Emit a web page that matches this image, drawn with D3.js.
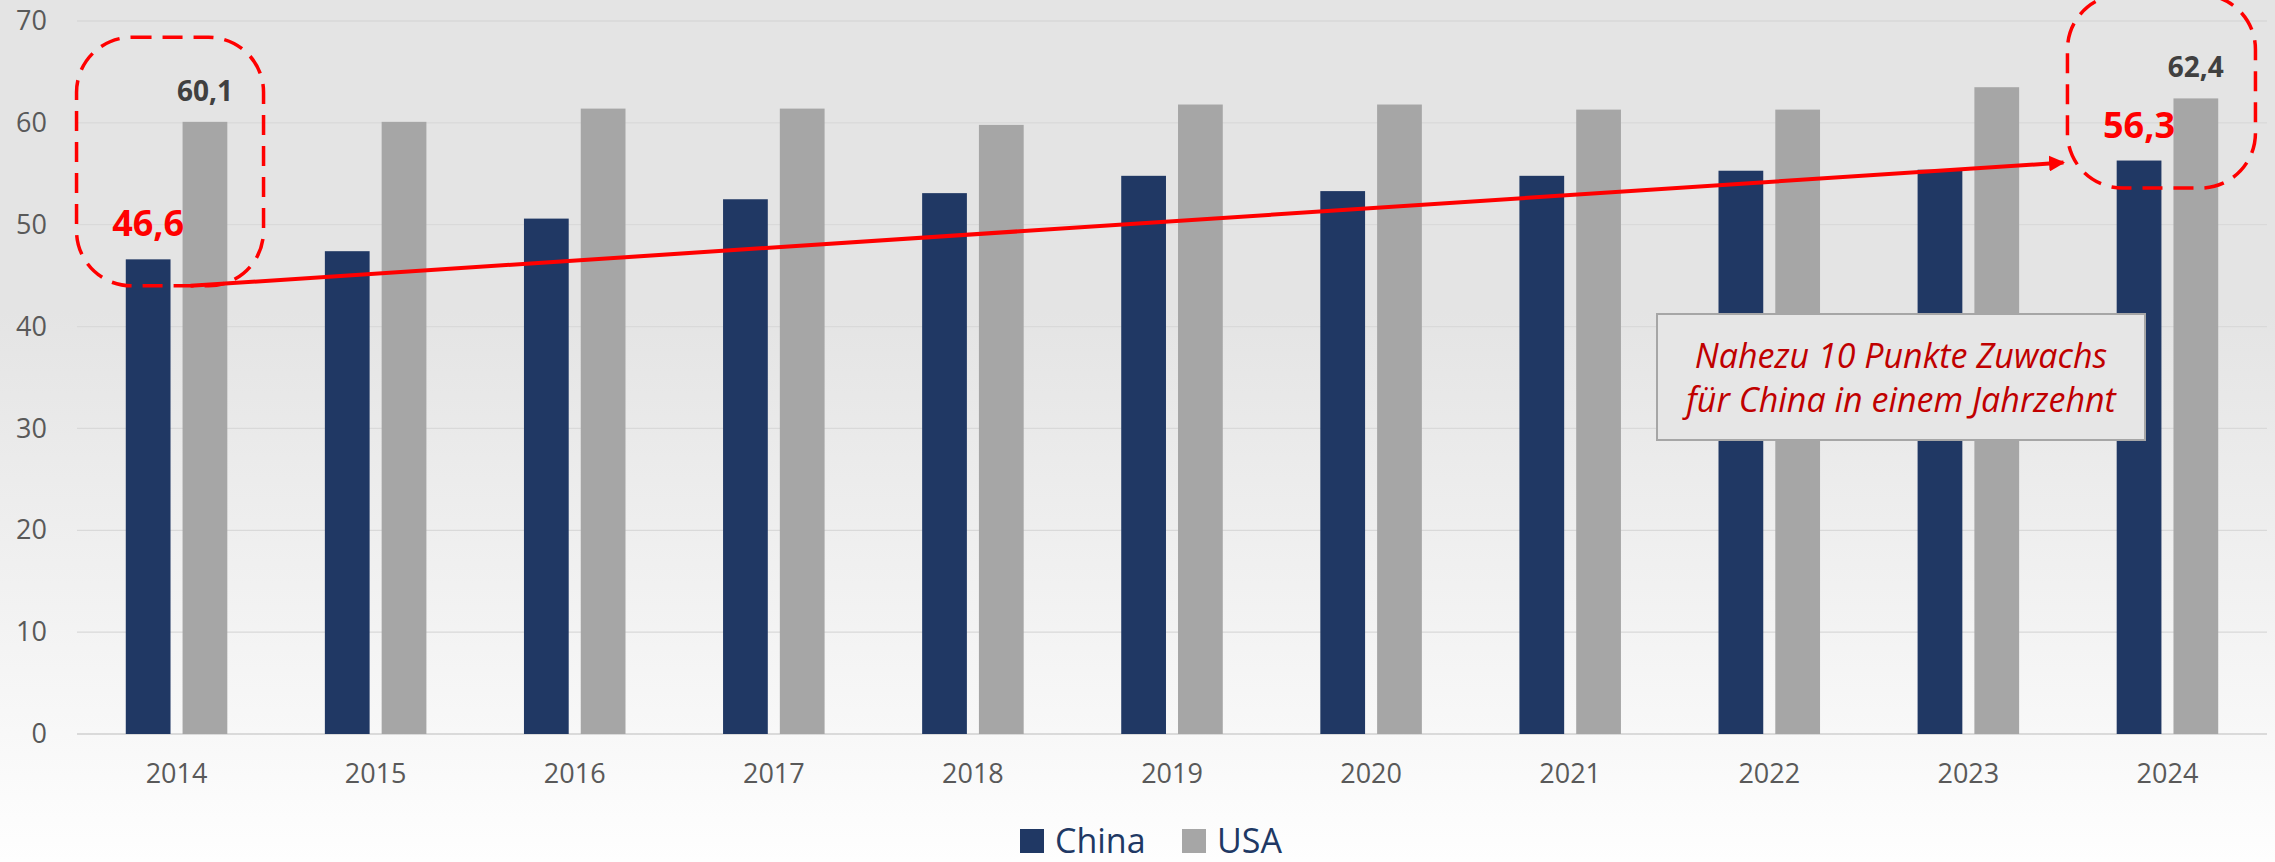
<!DOCTYPE html>
<html>
<head>
<meta charset="utf-8">
<script src="https://cdn.jsdelivr.net/npm/d3@7"></script>
<style>
  body { margin: 0; background: #fff; }
  text { font-family: "Open Sans", sans-serif; }
</style>
</head>
<body>
<svg id="chart"></svg>
<script>
const years = ["2014", "2015", "2016", "2017", "2018", "2019", "2020", "2021", "2022", "2023", "2024"];
const series = ["China", "USA"];
const china = [46.6, 47.4, 50.6, 52.5, 53.1, 54.8, 53.3, 54.8, 55.3, 55.4, 56.3];
const usa = [60.1, 60.1, 61.4, 61.4, 59.8, 61.8, 61.8, 61.3, 61.3, 63.5, 62.4];
const yTicks = [0, 10, 20, 30, 40, 50, 60, 70];
const noteLines = ["Nahezu 10 Punkte Zuwachs", "für China in einem Jahrzehnt"];
const trendFrom = 44.0, trendTo = 56.1;

const width = 2275, height = 862;
const marginLeft = 77, marginRight = 8, marginTop = 21, marginBottom = 128;

const colors = { China: "#203864", USA: "#a6a6a6" };

const rows = years.map((y, i) => ({ year: y, China: china[i], USA: usa[i] }));

const svg = d3.select("#chart")
  .attr("width", width)
  .attr("height", height);

// background gradient
const grad = svg.append("defs").append("linearGradient")
  .attr("id", "bg")
  .attr("x1", 0).attr("y1", 0).attr("x2", 0).attr("y2", 1);
grad.append("stop").attr("offset", "0").attr("stop-color", "#e4e4e4");
grad.append("stop").attr("offset", "0.36").attr("stop-color", "#e4e4e4");
grad.append("stop").attr("offset", "0.85").attr("stop-color", "#f8f8f8");
grad.append("stop").attr("offset", "1").attr("stop-color", "#fefefe");
svg.append("rect")
  .attr("width", width).attr("height", height)
  .attr("fill", "url(#bg)");

// scales
const x0 = d3.scaleBand()
  .domain(years)
  .range([marginLeft, width - marginRight])
  .paddingInner(0.49)
  .paddingOuter(0.245);
const x1 = d3.scaleBand()
  .domain(series)
  .range([0, x0.bandwidth()])
  .paddingInner(0.212);
const y = d3.scaleLinear()
  .domain([0, 70])
  .range([height - marginBottom, marginTop]);

// grid lines
svg.append("g")
  .selectAll("line")
  .data(yTicks)
  .join("line")
  .attr("x1", marginLeft)
  .attr("x2", width - marginRight)
  .attr("y1", d => y(d))
  .attr("y2", d => y(d))
  .attr("stroke", d => d === 0 ? "#d0d0d0" : "#d9d9d9")
  .attr("stroke-width", d => d === 0 ? 1.5 : 1.3);

// y axis labels
const yAxis = d3.axisLeft(y).tickValues(yTicks).tickSize(0).tickPadding(30);
svg.append("g")
  .attr("transform", `translate(${marginLeft},0)`)
  .call(yAxis)
  .call(g => g.select(".domain").remove())
  .call(g => g.selectAll("text")
    .attr("fill", "#595959")
    .style("font-size", "27px")
    .style("font-family", "'Open Sans', sans-serif"));

// x axis labels
const xAxis = d3.axisBottom(x0).tickSize(0).tickPadding(30);
svg.append("g")
  .attr("transform", `translate(0,${y(0)})`)
  .call(xAxis)
  .call(g => g.select(".domain").remove())
  .call(g => g.selectAll("text")
    .attr("fill", "#595959")
    .style("font-size", "27px")
    .style("font-family", "'Open Sans', sans-serif"));

// bars
const groups = svg.append("g")
  .selectAll("g")
  .data(rows)
  .join("g")
  .attr("transform", d => `translate(${x0(d.year)},0)`);
groups.selectAll("rect")
  .data(d => series.map(k => ({ key: k, value: d[k] })))
  .join("rect")
  .attr("x", d => x1(d.key))
  .attr("y", d => y(d.value))
  .attr("width", x1.bandwidth())
  .attr("height", d => y(0) - y(d.value))
  .attr("fill", d => colors[d.key]);

// value labels for first and last year
const first = rows[0], last = rows[rows.length - 1];
[first, last].forEach(r => {
  svg.append("text")
    .attr("x", x0(r.year) + x1("USA") + x1.bandwidth() / 2)
    .attr("y", y(r.USA) - 21)
    .attr("text-anchor", "middle")
    .attr("fill", "#404040")
    .style("font-size", "28px")
    .style("font-weight", "bold")
    .text(d3.format(".1f")(r.USA).replace(".", ","));
  svg.append("text")
    .attr("x", x0(r.year) + x1("China") + x1.bandwidth() / 2)
    .attr("y", y(r.China) - 23)
    .attr("text-anchor", "middle")
    .attr("fill", "#ff0000")
    .style("font-size", "36px")
    .style("font-weight", "bold")
    .text(d3.format(".1f")(r.China).replace(".", ","));
});

// dashed rounded boxes
const cx = yr => x0(yr) + x0.bandwidth() / 2;
svg.append("rect")
  .attr("x", cx("2014") - 100)
  .attr("y", y(68.4))
  .attr("width", 187)
  .attr("height", y(trendFrom) - y(68.4))
  .attr("rx", 55)
  .attr("fill", "none")
  .attr("stroke", "#ff0000")
  .attr("stroke-width", 3.5)
  .attr("stroke-dasharray", "20,11");
svg.append("rect")
  .attr("x", cx("2024") - 100)
  .attr("y", y(72.6))
  .attr("width", 188)
  .attr("height", y(53.6) - y(72.6))
  .attr("rx", 55)
  .attr("fill", "none")
  .attr("stroke", "#ff0000")
  .attr("stroke-width", 3.5)
  .attr("stroke-dasharray", "20,11");

// trend arrow
svg.select("defs").append("marker")
  .attr("id", "arrow")
  .attr("viewBox", "0 0 10 10")
  .attr("refX", 9).attr("refY", 5)
  .attr("markerWidth", 4).attr("markerHeight", 4)
  .attr("markerUnits", "strokeWidth")
  .attr("orient", "auto")
  .append("path")
  .attr("d", "M0,0 L10,5 L0,10 z")
  .attr("fill", "#ff0000");
svg.append("line")
  .attr("x1", cx("2014") + 14)
  .attr("y1", y(trendFrom))
  .attr("x2", cx("2024") - 104)
  .attr("y2", y(trendTo))
  .attr("stroke", "#ff0000")
  .attr("stroke-width", 4)
  .attr("marker-end", "url(#arrow)");

// note box
const note = svg.append("g");
note.append("rect")
  .attr("x", 1657)
  .attr("y", 314)
  .attr("width", 488)
  .attr("height", 126)
  .attr("fill", "#e6e6e6")
  .attr("stroke", "#a6a6a6")
  .attr("stroke-width", 2);
note.selectAll("text")
  .data(noteLines)
  .join("text")
  .attr("x", 1901)
  .attr("y", (d, i) => 368 + i * 44)
  .attr("text-anchor", "middle")
  .attr("fill", "#c00000")
  .style("font-size", "34px")
  .style("font-style", "italic")
  .text(d => d);

// legend
const legend = svg.append("g")
  .attr("transform", "translate(1020,829)");
const items = legend.selectAll("g")
  .data(series)
  .join("g")
  .attr("transform", (d, i) => `translate(${i * 162},0)`);
items.append("rect")
  .attr("width", 24).attr("height", 24)
  .attr("fill", d => colors[d]);
items.append("text")
  .attr("x", 35)
  .attr("y", 24)
  .attr("fill", "#203864")
  .style("font-size", "34px")
  .text(d => d);
</script>
</body>
</html>
